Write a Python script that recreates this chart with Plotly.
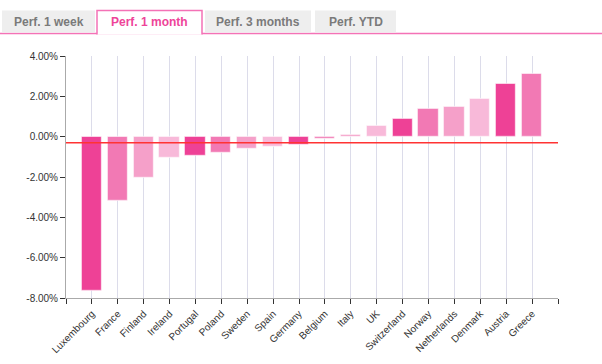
import plotly.graph_objects as go

countries = ["Luxembourg", "France", "Finland", "Ireland", "Portugal", "Poland", "Sweden",
             "Spain", "Germany", "Belgium", "Italy", "UK", "Switzerland", "Norway",
             "Netherlands", "Denmark", "Austria", "Greece"]
perf_1m = [-7.65, -3.21, -2.05, -1.05, -0.97, -0.83, -0.62, -0.49, -0.39, -0.10,
           0.08, 0.54, 0.90, 1.38, 1.46, 1.86, 2.61, 3.11]
tabs = ["Perf. 1 week", "Perf. 1 month", "Perf. 3 months", "Perf. YTD"]
active_tab = 1

palette = ["#EE4196", "#F279B4", "#F5A0C9", "#F8B9D9"]
colors = [palette[i % 4] for i in range(len(countries))]
avg = sum(perf_1m) / len(perf_1m)

W, H = 602, 364
L, R, T, B = 66, 558, 55.5, 298

def px(x):
    return (x - L) / (R - L)

def py(y):
    return (B - y) / (B - T)

xpos = list(range(1, len(countries) + 1))

fig = go.Figure()
fig.add_trace(go.Bar(
    x=xpos, y=perf_1m, width=0.78,
    marker=dict(color=colors, line=dict(color="rgba(255,255,255,0.55)", width=1.2)),
    hoverinfo="skip",
))

shapes = []
shapes.append(dict(type="line", xref="x", yref="y", x0=0, x1=len(countries) + 1,
                   y0=avg, y1=avg, line=dict(color="#FF3333", width=1.3), layer="above"))

# tabs
tab_x = [(2, 95), (97, 202), (205, 311), (315, 396)]
ty0 = 10
shapes.append(dict(type="line", xref="paper", yref="paper", x0=px(0), x1=px(602),
                   y0=py(33), y1=py(33), line=dict(color="#F472B6", width=1.5)))
for i, (a, b) in enumerate(tab_x):
    if i == active_tab:
        shapes.append(dict(type="rect", xref="paper", yref="paper", x0=px(a), x1=px(b),
                           y0=py(34), y1=py(ty0), fillcolor="white",
                           line=dict(color="white", width=0)))
        shapes.append(dict(type="path", xref="paper", yref="paper",
                           path=f"M {px(a)},{py(34)} L {px(a)},{py(ty0)} L {px(b)},{py(ty0)} L {px(b)},{py(34)}",
                           line=dict(color="#F472B6", width=1.5)))
    else:
        shapes.append(dict(type="rect", xref="paper", yref="paper", x0=px(a), x1=px(b),
                           y0=py(32), y1=py(ty0), fillcolor="#EEEEEE",
                           line=dict(width=0)))

annotations = []
for i, (a, b) in enumerate(tab_x):
    annotations.append(dict(
        text=f"<b>{tabs[i]}</b>", xref="paper", yref="paper",
        x=px((a + b) / 2), y=py(21.5), showarrow=False, xanchor="center", yanchor="middle",
        font=dict(family="Liberation Sans, Arial", size=12,
                  color="#EE4499" if i == active_tab else "#7A7A7A")))

fig.update_layout(
    width=W, height=H,
    margin=dict(l=L, r=W - R, t=T, b=H - B, autoexpand=False),
    plot_bgcolor="white", paper_bgcolor="white",
    showlegend=False,
    font=dict(family="Liberation Sans, Arial", size=10, color="#333"),
    shapes=shapes, annotations=annotations,
    bargap=0,
    xaxis=dict(
        range=[0, len(countries) + 1],
        tickvals=list(range(0, len(countries) + 2)),
        ticktext=[""] + countries + [""],
        tickangle=-45,
        showgrid=True, gridcolor="#DCDCEA", gridwidth=1,
        ticks="outside", ticklen=5, tickcolor="#333",
        showline=True, linecolor="#AAAAAA", linewidth=1,
        tickfont=dict(size=10, color="#333"),
        zeroline=False, automargin=False,
    ),
    yaxis=dict(
        range=[-8, 4],
        tickvals=[-8, -6, -4, -2, 0, 2, 4],
        ticktext=["-8.00%", "-6.00%", "-4.00%", "-2.00%", "0.00%", "2.00%", "4.00%"],
        showgrid=False, zeroline=False,
        ticks="outside", ticklen=5, tickcolor="#333",
        showline=True, linecolor="#AAAAAA", linewidth=1,
        tickfont=dict(size=10, color="#333"),
        automargin=False,
    ),
)

fig.write_html("out.html", config={"displayModeBar": False},
               post_script="document.body.style.margin='0';")
